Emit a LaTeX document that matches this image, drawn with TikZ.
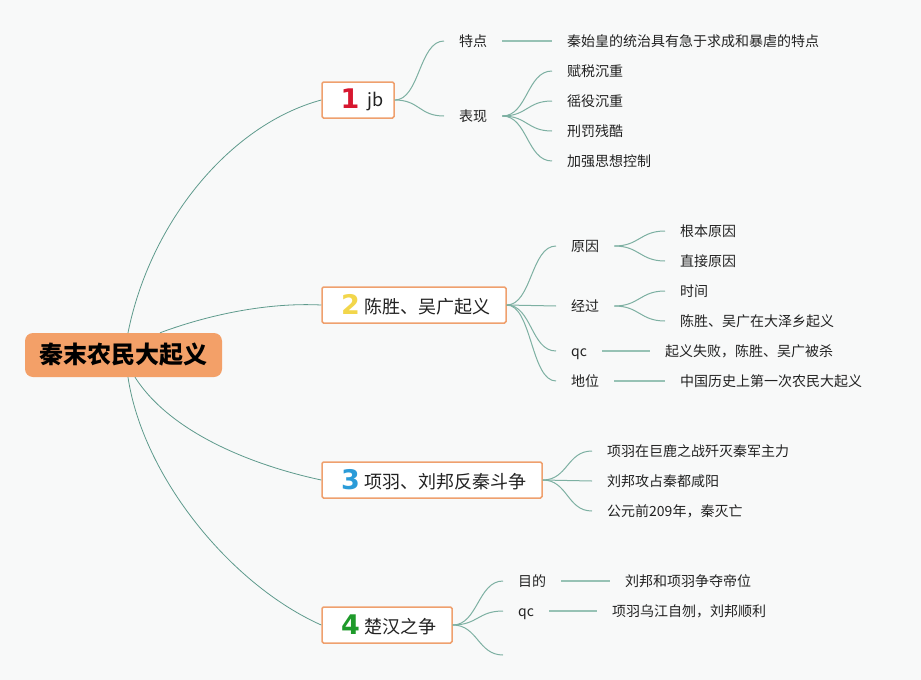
\documentclass[tikz,border=0pt]{standalone}
\usepackage{fontspec}
\setmainfont{Noto Sans CJK SC}
\newfontfamily\numfont{DejaVu Sans}[BoldFont={DejaVu Sans Bold}]
\definecolor{bgc}{HTML}{F8F9F9}
\definecolor{rootc}{HTML}{F3A068}
\definecolor{boxc}{HTML}{EFA06E}
\definecolor{lnA}{HTML}{5E9A8C}
\definecolor{lnB}{HTML}{7DB0A2}
\definecolor{lnC}{HTML}{97C2B5}
\definecolor{txt}{HTML}{222222}
\definecolor{cA}{HTML}{D7172F}
\definecolor{cB}{HTML}{F2D64B}
\definecolor{cC}{HTML}{2A9BD8}
\definecolor{cD}{HTML}{1E9A2A}
\newcommand\numb[2]{\raisebox{-1.5pt}{\numfont\bfseries\fontsize{27}{27}\selectfont\color{#1}#2}}
\begin{document}
\begin{tikzpicture}[x=1pt,y=-1pt,
  rootbox/.style={fill=rootc, rounded corners=8pt, minimum width=197pt, minimum height=44pt, inner sep=0pt, font=\bfseries\fontsize{24}{26}\selectfont, text=black},
  topic/.style={draw=boxc, line width=1.5pt, fill=white, rounded corners=1.5pt, minimum height=36pt, inner sep=0pt, font=\fontsize{18}{20}\selectfont, text=txt},
  lbl/.style={anchor=west, inner xsep=15pt, inner ysep=0pt, text height=12.5pt, text depth=1.5pt, font=\fontsize{14}{16}\selectfont, text=txt},
  lA/.style={draw=lnA, line width=0.8pt},
  lB/.style={draw=lnB, line width=1pt},
  lC/.style={draw=lnC, line width=1.6pt},
  mm/.style={to path={.. controls +(#1,0) and +(-#1,0) .. (\tikztotarget)}},
  mm/.default=25]
\fill[bgc] (0,0) rectangle (921,680);
\useasboundingbox (0,0) rectangle (921,680);

% main nodes
\node[rootbox] (root) at (123.5,355) {秦末农民大起义};
\node[topic, minimum width=72pt] (n1) at (358,100) {\hspace{8pt}\numb{cA}{1}\hspace{8pt}jb};
\node[topic, minimum width=184pt] (n2) at (414,305) {\hspace{4pt}\numb{cB}{2}\hspace{5pt}陈胜、吴广起义};
\node[topic, minimum width=220pt] (n3) at (432,480) {\hspace{4pt}\numb{cC}{3}\hspace{5pt}项羽、刘邦反秦斗争};
\node[topic, minimum width=130pt] (n4) at (387,625) {\hspace{4pt}\numb{cD}{4}\hspace{5pt}楚汉之争};

% branch 1
\node[lbl] (a1) at (444,41) {特点};
\node[lbl] (a1x) at (552,41) {秦始皇的统治具有急于求成和暴虐的特点};
\node[lbl] (a2) at (444,116) {表现};
\node[lbl] (a21) at (552,71) {赋税沉重};
\node[lbl] (a22) at (552,101) {徭役沉重};
\node[lbl] (a23) at (552,131) {刑罚残酷};
\node[lbl] (a24) at (552,161) {加强思想控制};

% branch 2
\node[lbl] (b1) at (556,246) {原因};
\node[lbl] (b11) at (665,231) {根本原因};
\node[lbl] (b12) at (665,261) {直接原因};
\node[lbl] (b2) at (556,306) {经过};
\node[lbl] (b21) at (665,291) {时间};
\node[lbl] (b22) at (665,321) {陈胜、吴广在大泽乡起义};
\node[lbl] (b3) at (556,351) {qc};
\node[lbl] (b31) at (650,351) {起义失败，陈胜、吴广被杀};
\node[lbl] (b4) at (556,381) {地位};
\node[lbl] (b41) at (665,381) {中国历史上第一次农民大起义};

% branch 3
\node[lbl] (c1) at (592,451) {项羽在巨鹿之战歼灭秦军主力};
\node[lbl] (c2) at (592,481) {刘邦攻占秦都咸阳};
\node[lbl] (c3) at (592,511) {公元前209年，秦灭亡};

% branch 4
\node[lbl] (d1) at (503,581) {目的};
\node[lbl] (d11) at (610,581) {刘邦和项羽争夺帝位};
\node[lbl] (d2) at (503,611) {qc};
\node[lbl] (d21) at (597,611) {项羽乌江自刎，刘邦顺利};
\coordinate (d3) at (503,655);

% root connectors
\draw[lA] ([xshift=4.5pt]root.north) .. controls +(22,-110) and +(-92,25) .. (n1.west);
\draw[lA] ([xshift=36.5pt]root.north) .. controls +(40,-15) and +(-60,-3) .. (n2.west);
\draw[lA] ([xshift=11.5pt]root.south) .. controls +(35,55) and +(-70,-15) .. (n3.west);
\draw[lA] ([xshift=4.5pt]root.south) .. controls +(15,100) and +(-90,-40) .. (n4.west);

% topic connectors
\draw[lB] (n1.east) to[mm] (a1.west);
\draw[lB] (n1.east) to[mm] (a2.west);
\draw[lB] (a2.east) to[mm] (a21.west);
\draw[lB] (a2.east) to[mm] (a22.west);
\draw[lB] (a2.east) to[mm] (a23.west);
\draw[lB] (a2.east) to[mm] (a24.west);
\draw[lC] (a1.east) -- (a1x.west);

\draw[lB] (n2.east) to[mm] (b1.west);
\draw[lB] (n2.east) to[mm] (b2.west);
\draw[lB] (n2.east) to[mm] (b3.west);
\draw[lB] (n2.east) to[mm] (b4.west);
\draw[lB] (b1.east) to[mm] (b11.west);
\draw[lB] (b1.east) to[mm] (b12.west);
\draw[lB] (b2.east) to[mm] (b21.west);
\draw[lB] (b2.east) to[mm] (b22.west);
\draw[lC] (b3.east) -- (b31.west);
\draw[lC] (b4.east) -- (b41.west);

\draw[lB] (n3.east) to[mm] (c1.west);
\draw[lB] (n3.east) to[mm] (c2.west);
\draw[lB] (n3.east) to[mm] (c3.west);

\draw[lB] (n4.east) to[mm] (d1.west);
\draw[lB] (n4.east) to[mm] (d2.west);
\draw[lB] (n4.east) to[mm] (d3);
\draw[lC] (d1.east) -- (d11.west);
\draw[lC] (d2.east) -- (d21.west);
\end{tikzpicture}
\end{document}
